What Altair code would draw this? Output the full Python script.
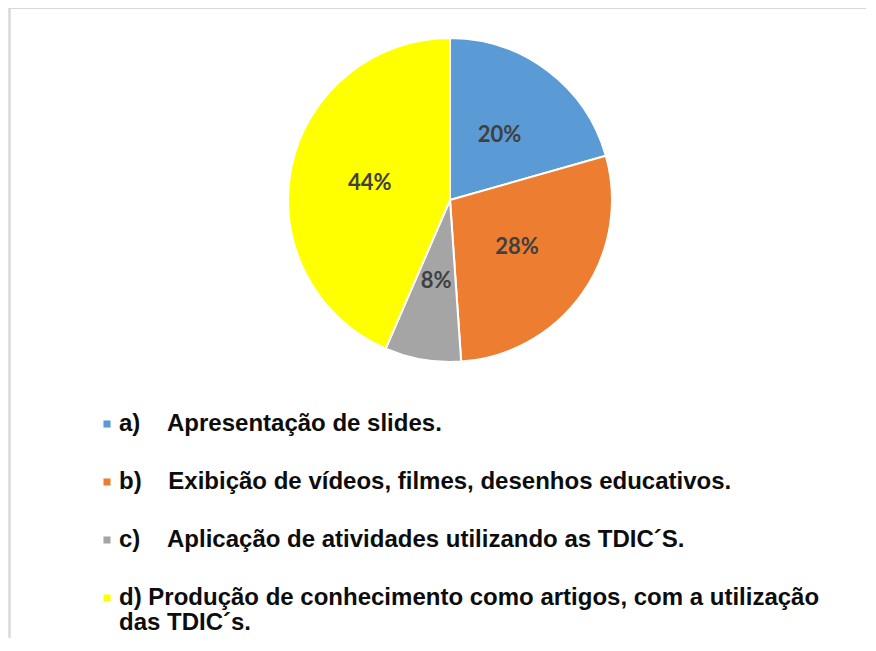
import altair as alt
import pandas as pd

keys = ["a", "b", "c", "d"]
values = [20.6, 28.3, 7.6, 43.5]
pct_labels = ["20%", "28%", "8%", "44%"]
legend_labels = [
    "a)\u00a0\u00a0\u00a0\u00a0Apresentação de slides.",
    "b)\u00a0\u00a0\u00a0\u00a0Exibição de vídeos, filmes, desenhos educativos.",
    "c)\u00a0\u00a0\u00a0\u00a0Aplicação de atividades utilizando as TDIC´S.",
    "d) Produção de conhecimento como artigos, com a utilização|das TDIC´s.",
]
colors = ["#5B9BD5", "#ED7D31", "#A5A5A5", "#FFFF00"]

df = pd.DataFrame({
    "key": keys,
    "value": values,
    "pct": pct_labels,
    "label": legend_labels,
    "order": list(range(len(keys))),
})

CX, CY = 442, 192

base = alt.Chart(df).encode(
    theta=alt.Theta("value:Q", stack=True),
    order=alt.Order("order:Q"),
)

arc = base.mark_arc(outerRadius=162, stroke="white", strokeWidth=2, x=CX, y=CY).encode(
    color=alt.Color(
        "label:N",
        scale=alt.Scale(domain=legend_labels, range=colors),
        legend=alt.Legend(
            title=None,
            orient="none",
            legendX=87,
            legendY=404,
            symbolType="square",
            symbolSize=50,
            symbolStrokeWidth=0,
            labelFont="Liberation Sans",
            labelFontSize=24,
            labelFontWeight="bold",
            labelColor="#0d0d0d",
            labelLimit=900,
            labelOffset=0,
            rowPadding=34,
            labelExpr="split(datum.label, '|')",
        ),
    )
)

text = base.mark_text(
    radius=82, x=CX, y=CY, font="Lato", fontSize=22, fontWeight="bold", color="#404040"
).encode(text="pct:N")

frame_df = pd.DataFrame({"k": [0]})
left_rule = alt.Chart(frame_df).mark_rule(color="#d9d9d9", strokeWidth=2.5).encode(
    x=alt.value(1.5), y=alt.value(0), y2=alt.value(640)
)
top_rule = alt.Chart(frame_df).mark_rule(color="#d9d9d9", strokeWidth=2).encode(
    y=alt.value(0), x=alt.value(0), x2=alt.value(860)
)

chart = alt.layer(left_rule, top_rule, arc, text).properties(
    width=858, height=630, padding=0, autosize="none"
).configure(
    view=alt.ViewConfig(strokeWidth=0),
    style={"guide-label": {"lineHeight": 25}},
)

chart.save("out.html", embed_options={"renderer": "svg", "actions": False})
